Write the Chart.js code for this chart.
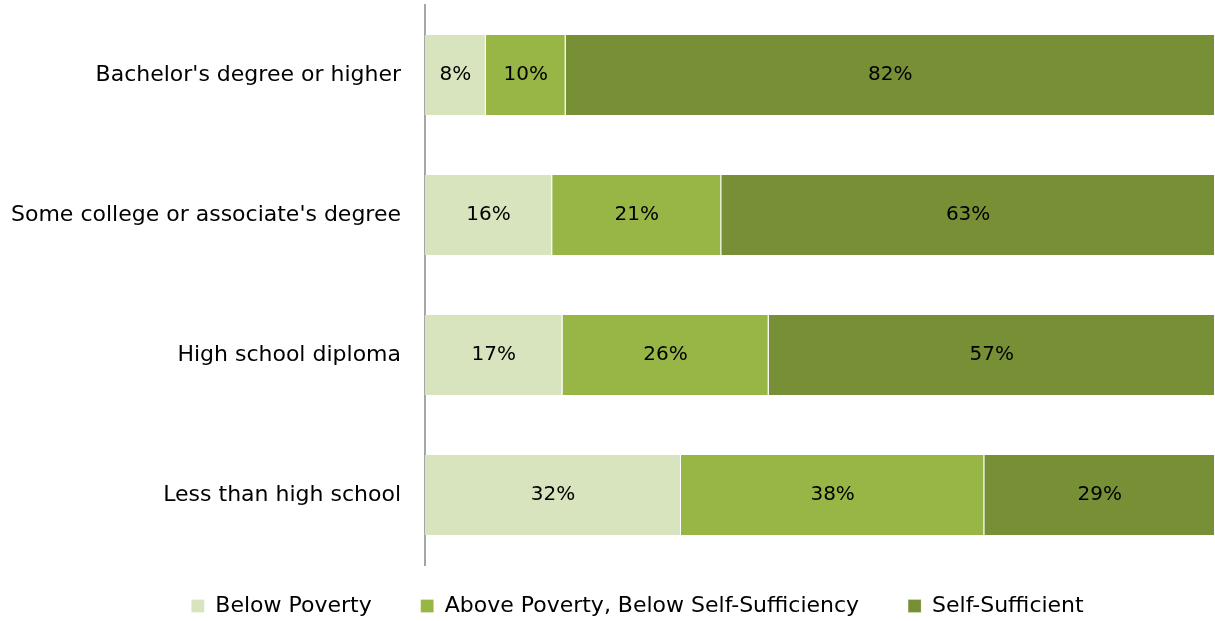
<!DOCTYPE html>
<html>
<head>
<meta charset="utf-8">
<script src="https://cdn.jsdelivr.net/npm/chart.js@4"></script>
<style>
  html, body { margin: 0; padding: 0; background: #fff; }
  #wrap { width: 1215px; height: 621px; }
</style>
</head>
<body>
<div id="wrap"><canvas id="myChart"></canvas></div>
<script>
(() => {
  'use strict'

  const categories = [
    "Bachelor's degree or higher",
    "Some college or associate's degree",
    'High school diploma',
    'Less than high school'
  ]
  const belowPoverty = [7.7, 16.1, 17.4, 32.4]
  const aboveBelowSelf = [10.1, 21.4, 26.1, 38.4]
  const selfSufficient = [82.2, 62.5, 56.5, 29.2]
  const seriesNames = ['Below Poverty', 'Above Poverty, Below Self-Sufficiency', 'Self-Sufficient']

  const font = 'DejaVu Sans'

  // draws the percent inside each segment
  const barLabels = {
    id: 'barLabels',
    afterDatasetsDraw (chart) {
      const ctx = chart.ctx
      ctx.save()
      ctx.font = '20px "' + font + '"'
      ctx.fillStyle = '#000'
      ctx.textAlign = 'center'
      ctx.textBaseline = 'middle'
      chart.data.datasets.forEach((ds, i) => {
        chart.getDatasetMeta(i).data.forEach((bar, j) => {
          const c = bar.getCenterPoint()
          ctx.fillText(Math.round(ds.data[j]) + '%', c.x, c.y)
        })
      })
      ctx.restore()
    }
  }

  // legend in the original sits a bit right of centre
  const legendShift = {
    id: 'legendShift',
    afterLayout (chart) {
      chart.legend.left += 30
      chart.legend.right += 30
      chart.legend.top -= 5
      chart.legend.bottom -= 5
    }
  }

  const ctx = document.getElementById('myChart')
  // eslint-disable-next-line no-unused-vars
  const myChart = new Chart(ctx, {
    type: 'bar',
    data: {
      labels: categories,
      datasets: [
        { label: seriesNames[0], data: belowPoverty, backgroundColor: '#d7e4bd' },
        { label: seriesNames[1], data: aboveBelowSelf, backgroundColor: '#97b645' },
        { label: seriesNames[2], data: selfSufficient, backgroundColor: '#778f35' }
      ].map(d => Object.assign(d, {
        borderColor: '#ffffff',
        borderWidth: { left: 0, right: 1, top: 0, bottom: 0 },
        borderSkipped: false,
        barPercentage: 0.57,
        categoryPercentage: 1
      }))
    },
    options: {
      indexAxis: 'y',
      responsive: true,
      maintainAspectRatio: false,
      animation: false,
      layout: { padding: { top: 5, right: 0, bottom: -11, left: 0 } },
      scales: {
        x: {
          stacked: true,
          min: 0,
          max: 100,
          display: false
        },
        y: {
          stacked: true,
          grid: { display: false, drawTicks: false },
          border: { display: true, color: '#a6a6a6', width: 2 },
          ticks: {
            color: '#000',
            padding: 24,
            font: { family: font, size: 22 }
          },
          afterFit (scale) {
            scale.width = 425
            scale.paddingTop = 0
            scale.paddingBottom = 0
          }
        }
      },
      plugins: {
        legend: {
          position: 'bottom',
          labels: {
            color: '#000',
            boxWidth: 13,
            boxHeight: 13,
            padding: 35,
            font: { family: font, size: 22 },
            generateLabels (chart) {
              const items = Chart.defaults.plugins.legend.labels.generateLabels(chart)
              items.forEach((it, i) => {
                if (i < items.length - 1) it.text += '  '
              })
              return items
            }
          }
        },
        tooltip: { enabled: false }
      }
    },
    plugins: [barLabels, legendShift]
  })
})()
</script>
</body>
</html>
